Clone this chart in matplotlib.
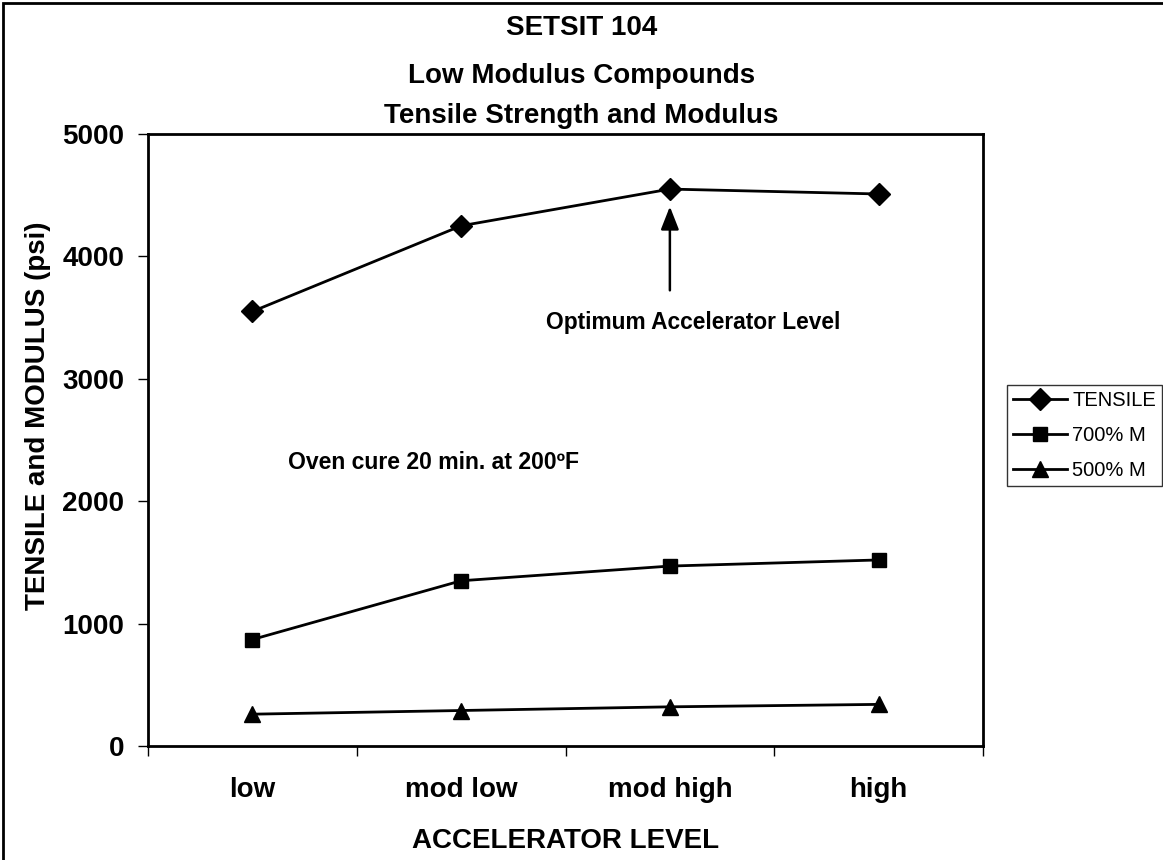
import matplotlib.pyplot as plt
from matplotlib.patches import Rectangle
import numpy as np

plt.rcParams['font.family'] = ['Liberation Sans', 'DejaVu Sans']

levels = ["low", "mod low", "mod high", "high"]
tensile = [3550, 4250, 4550, 4510]
mod700 = [870, 1350, 1470, 1520]
mod500 = [260, 290, 320, 340]

fig = plt.figure(figsize=(11.63, 8.6), dpi=100)
ax = fig.add_axes([148 / 1163, 1 - 746 / 860, 835 / 1163, 612 / 860])

x = np.arange(len(levels)) + 0.5
ax.plot(x, tensile, '-D', color='black', lw=2, ms=11, label='TENSILE')
ax.plot(x, mod700, '-s', color='black', lw=2, ms=10, label='700% M')
ax.plot(x, mod500, '-^', color='black', lw=2, ms=12, label='500% M')

ax.set_xlim(0, 4)
ax.set_ylim(0, 5000)
ax.set_yticks([0, 1000, 2000, 3000, 4000, 5000])
ax.set_xticks([0, 1, 2, 3, 4])
ax.set_xticklabels([])
ax.set_xticks(x, minor=True)
ax.set_xticklabels(levels, minor=True)
ax.tick_params(axis='x', which='minor', length=0, pad=22, labelsize=20)
ax.tick_params(axis='x', which='major', direction='out', length=7, width=1)
ax.tick_params(axis='y', direction='out', length=7, width=1, labelsize=20, pad=10)
for lab in ax.get_xticklabels(minor=True) + ax.get_yticklabels():
    lab.set_fontweight('bold')
for s in ax.spines.values():
    s.set_linewidth(2)

fig.text(566 / 1163, 1 - 841 / 860, "ACCELERATOR LEVEL", ha='center', va='center',
         fontsize=20, fontweight='bold')
fig.text(38 / 1163, 1 - 416 / 860, "TENSILE and MODULUS (psi)", ha='center',
         va='center', rotation=90, fontsize=20, fontweight='bold')

ax.annotate("", xy=(2.5, 4430), xytext=(2.5, 3700),
            arrowprops=dict(arrowstyle='-|>,head_length=1.4,head_width=0.55',
                            color='black', lw=1.8))
ax.text(2.61, 3460, "Optimum Accelerator Level", ha='center', va='center',
        fontsize=16.4, fontweight='bold')
ax.text(0.67, 2320, "Oven cure 20 min. at 200ºF", ha='left', va='center',
        fontsize=16.6, fontweight='bold')

fig.text(0.5, 1 - 28 / 860, "SETSIT 104", ha='center', va='center',
         fontsize=20, fontweight='bold')
fig.text(0.5, 1 - 76 / 860, "Low Modulus Compounds", ha='center', va='center',
         fontsize=20, fontweight='bold')
fig.text(0.5, 1 - 116 / 860, "Tensile Strength and Modulus", ha='center', va='center',
         fontsize=20, fontweight='bold')

leg = fig.legend(loc='upper left', bbox_to_anchor=(1007 / 1163, 1 - 385 / 860),
                 frameon=True, fancybox=False, edgecolor='black', fontsize=14.5,
                 handlelength=2.7, borderpad=0.3, labelspacing=0.8,
                 handletextpad=0.25, borderaxespad=0)
leg.get_frame().set_linewidth(1)

# outer chart border (only left and top edges visible in the image)
fig.patches.append(Rectangle((3 / 1163, -0.1), 1.2, 1 - 3 / 860 + 0.1,
                             transform=fig.transFigure, fill=False,
                             edgecolor='black', lw=2))

fig.savefig("out.png", dpi=100)
